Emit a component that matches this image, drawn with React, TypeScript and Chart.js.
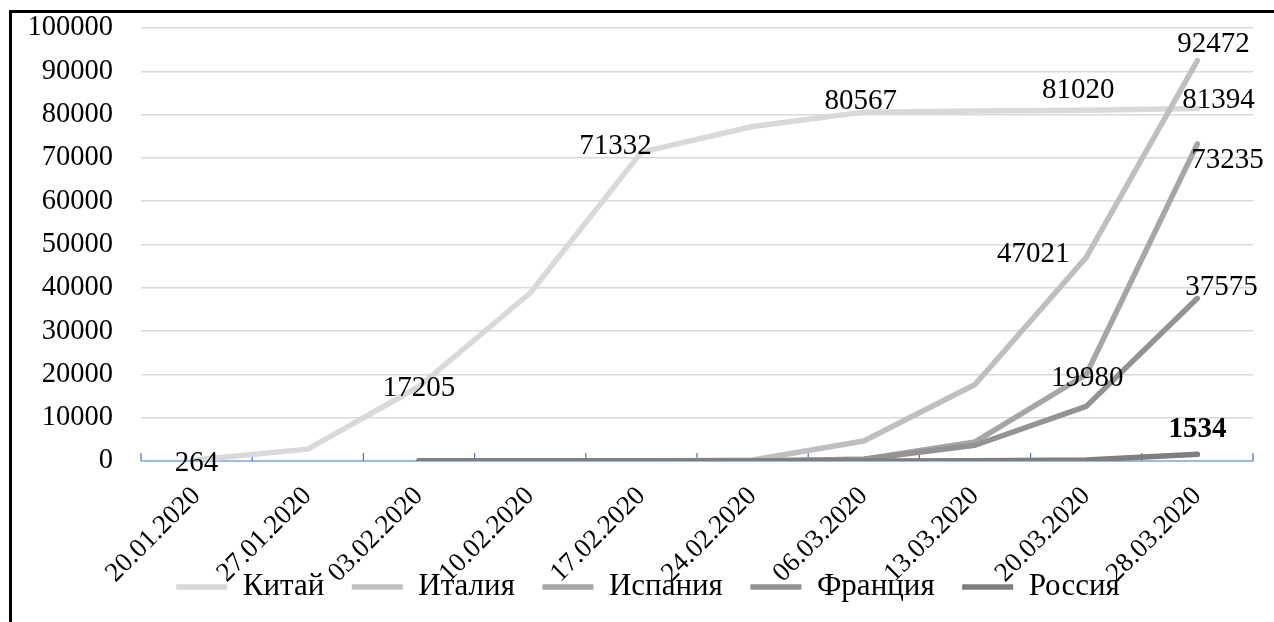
import React, { useEffect, useRef } from 'react';
import { Chart, registerables } from 'chart.js';

Chart.register(...registerables);

const FONT = "'Liberation Serif', 'Times New Roman', serif";

const categories = [
  '20.01.2020', '27.01.2020', '03.02.2020', '10.02.2020', '17.02.2020',
  '24.02.2020', '06.03.2020', '13.03.2020', '20.03.2020', '28.03.2020',
];

const seriesNames = ['Китай', 'Италия', 'Испания', 'Франция', 'Россия'];

const china = [264, 2744, 17205, 38800, 71332, 77262, 80567, 80813, 81020, 81394];
const italy = [null, null, 2, 3, 3, 229, 4636, 17660, 47021, 92472];
const spain = [null, null, 1, 2, 2, 3, 400, 4400, 19980, 73235];
const france = [null, null, 6, 11, 12, 12, 423, 3640, 12612, 37575];
const russia = [null, null, 2, 2, 2, 2, 4, 34, 253, 1534];

const seriesValues = [china, italy, spain, france, russia];
const seriesColors = ['#d9d9d9', '#bfbfbf', '#a6a6a6', '#939393', '#7f7f7f'];

const yMin = 0;
const yMax = 100000;
const yStep = 10000;

// which points carry a value label (series index, point index) and where the label sits
const pointLabels = [
  { series: 0, index: 0, dx: 0, dy: 2, bold: false },
  { series: 0, index: 2, dx: 0, dy: 0, bold: false },
  { series: 0, index: 4, dx: -26, dy: -8, bold: false },
  { series: 0, index: 6, dx: -3, dy: -13, bold: false },
  { series: 0, index: 8, dx: -8, dy: -22, bold: false },
  { series: 0, index: 9, dx: 21, dy: -10, bold: false },
  { series: 1, index: 8, dx: -53, dy: -5, bold: false },
  { series: 1, index: 9, dx: 16, dy: -18, bold: false },
  { series: 2, index: 8, dx: 1, dy: 1.5, bold: false },
  { series: 2, index: 9, dx: 30, dy: 15, bold: false },
  { series: 3, index: 9, dx: 24, dy: -13, bold: false },
  { series: 4, index: 9, dx: 0, dy: -27, bold: true },
];

const LABEL_SIZE = 29;
const Y_FONT_SIZE = 28.5;
const X_FONT_SIZE = 27;
const LEGEND_FONT_SIZE = 31;
const LEGEND_PADDING = 27.5;

const CANVAS_W = 1296;
const CANVAS_H = 622;

const axisPlugin = {
  id: 'excelCategoryAxis',
  beforeDatasetsDraw(chart: any) {
    const { ctx, scales } = chart;
    const x = scales.x;
    const y = scales.y;
    const y0 = y.getPixelForValue(0);
    const n = categories.length;
    const step = x.getPixelForValue(1) - x.getPixelForValue(0);
    const left = x.getPixelForValue(0) - step / 2;
    const right = x.getPixelForValue(n - 1) + step / 2;
    ctx.save();
    ctx.strokeStyle = '#4472c4';
    ctx.lineWidth = 1.2;
    ctx.beginPath();
    ctx.moveTo(left, y0);
    ctx.lineTo(right, y0);
    for (let i = 0; i <= n; i++) {
      const px = left + i * step;
      ctx.moveTo(px, y0);
      ctx.lineTo(px, y0 - 8);
    }
    ctx.stroke();
    ctx.restore();
  },
};

const valueLabelPlugin = {
  id: 'valueLabels',
  afterDatasetsDraw(chart: any) {
    const ctx = chart.ctx;
    ctx.save();
    ctx.fillStyle = '#000';
    ctx.textAlign = 'center';
    ctx.textBaseline = 'alphabetic';
    pointLabels.forEach((l) => {
      const meta = chart.getDatasetMeta(l.series);
      const el = meta.data[l.index];
      if (!el) return;
      const value = chart.data.datasets[l.series].data[l.index];
      ctx.font = `${l.bold ? 'bold ' : ''}${LABEL_SIZE}px ${FONT}`;
      ctx.fillText(String(value), el.x + l.dx, el.y + l.dy + LABEL_SIZE * 0.33);
    });
    ctx.restore();
  },
};

export default function App() {
  const ref = useRef<HTMLCanvasElement>(null);

  useEffect(() => {
    const canvas = ref.current;
    if (!canvas) return;
    const n = seriesNames.length;
    const datasets = seriesNames.map((name, i) => ({
      label: name,
      data: seriesValues[i],
      borderColor: seriesColors[i],
      backgroundColor: seriesColors[i],
      borderWidth: 5.5,
      borderCapStyle: 'round' as const,
      borderJoinStyle: 'round' as const,
      pointRadius: 0,
      pointHoverRadius: 0,
      pointStyle: 'line' as const,
      tension: 0,
      spanGaps: false,
      order: n - 1 - i,
    }));

    const legendHeight = LEGEND_FONT_SIZE + LEGEND_PADDING + 10;
    const bottomPad = 9.5;

    const chart = new Chart(canvas, {
      type: 'line',
      data: { labels: categories, datasets },
      plugins: [axisPlugin, valueLabelPlugin],
      options: {
        animation: false,
        responsive: false,
        devicePixelRatio: 1,
        layout: { padding: { top: 28, left: 0, right: 0, bottom: bottomPad } },
        plugins: {
          tooltip: { enabled: false },
          legend: {
            position: 'bottom',
            labels: {
              usePointStyle: true,
              pointStyle: 'line',
              pointStyleWidth: 51,
              padding: LEGEND_PADDING,
              color: '#000',
              font: { family: FONT, size: LEGEND_FONT_SIZE },
              sort: (a: any, b: any) => a.datasetIndex - b.datasetIndex,
            },
          },
        },
        scales: {
          x: {
            type: 'category',
            offset: true,
            grid: { display: false, drawTicks: false },
            border: { display: false },
            ticks: {
              autoSkip: false,
              minRotation: 45,
              maxRotation: 45,
              mirror: true,
              padding: -31,
              color: '#000',
              font: { family: FONT, size: X_FONT_SIZE, lineHeight: 0.01 },
            },
            afterFit: (s: any) => {
              s.height = CANVAS_H - bottomPad - legendHeight - 461;
            },
          },
          y: {
            min: yMin,
            max: yMax,
            grid: {
              drawTicks: false,
              lineWidth: 1.5,
              color: (c: any) => (c.tick && c.tick.value === 0 ? 'rgba(0,0,0,0)' : '#d9d9d9'),
            },
            border: { display: false },
            ticks: {
              stepSize: yStep,
              padding: 28,
              color: '#000',
              font: { family: FONT, size: Y_FONT_SIZE },
              callback: (v: any) => String(v),
            },
            afterFit: (s: any) => {
              s.width = 141;
              s.paddingTop = 0;
              s.paddingBottom = 0;
            },
          },
          spacer: {
            type: 'linear',
            position: 'right',
            display: true,
            grid: { display: false, drawTicks: false },
            border: { display: false },
            ticks: { display: false },
            afterFit: (s: any) => {
              s.width = CANVAS_W - 1253;
              s.paddingTop = 0;
              s.paddingBottom = 0;
            },
          },
        },
      },
    });
    return () => chart.destroy();
  }, []);

  return (
    <div
      style={{
        position: 'fixed',
        left: 0,
        top: 0,
        width: 1274,
        height: 622,
        overflow: 'hidden',
        background: '#fff',
      }}
    >
      <div
        style={{
          position: 'absolute',
          left: 9,
          top: 10,
          width: 1400,
          height: 800,
          borderLeft: '3px solid #000',
          borderTop: '3px solid #000',
        }}
      />
      <canvas
        ref={ref}
        width={CANVAS_W}
        height={CANVAS_H}
        style={{ position: 'absolute', left: 0, top: 0, display: 'block' }}
      />
    </div>
  );
}
